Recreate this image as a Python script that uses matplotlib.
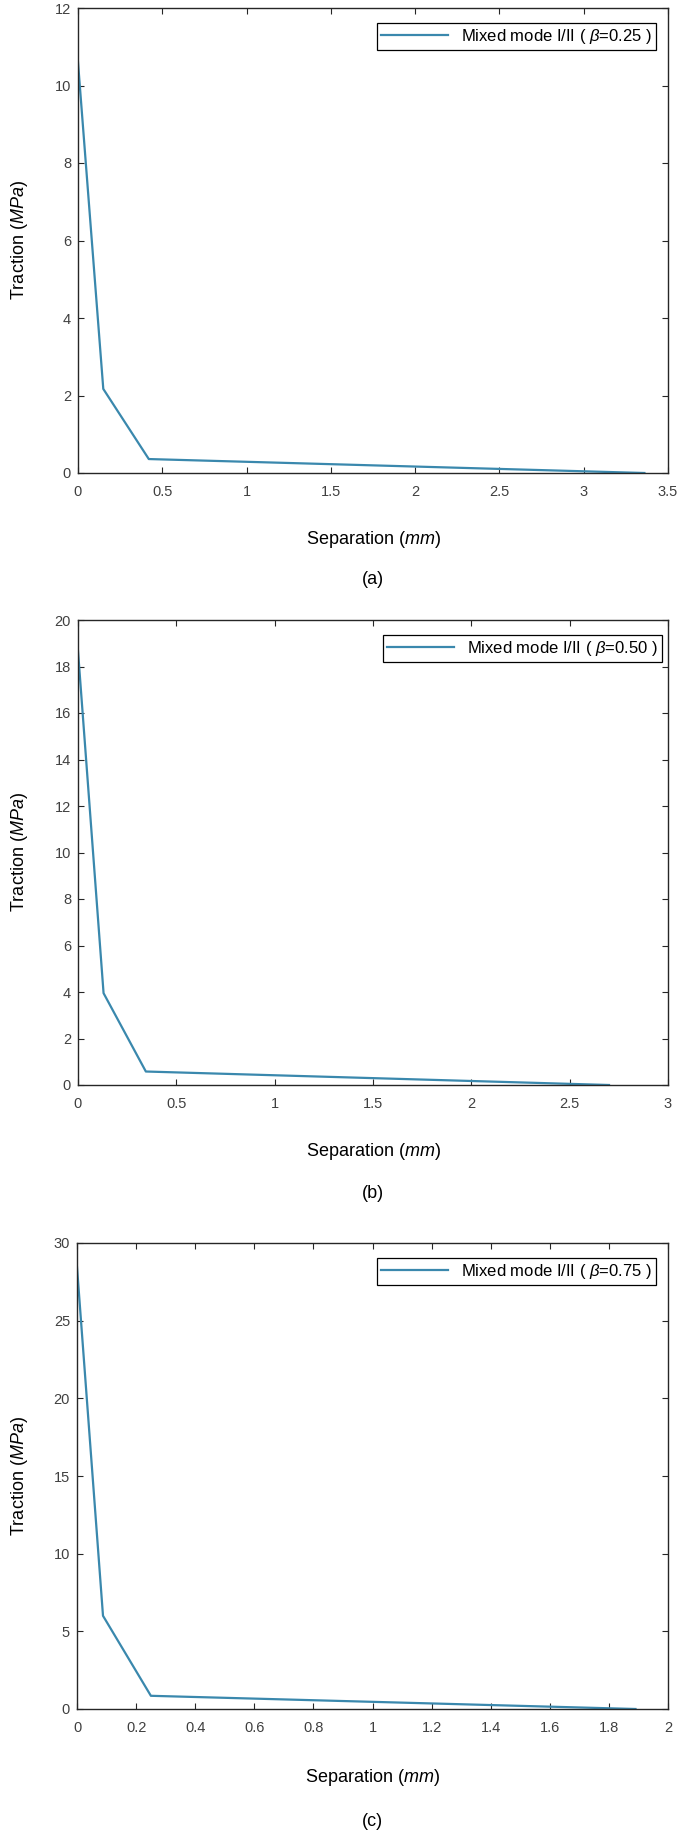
import matplotlib
matplotlib.use("Agg")
import matplotlib.pyplot as plt

plt.rcParams['font.family'] = ['Liberation Sans', 'DejaVu Sans']
plt.rcParams['mathtext.fontset'] = 'custom'
plt.rcParams['mathtext.rm'] = 'Liberation Sans'
plt.rcParams['mathtext.it'] = 'Liberation Sans:italic'

# ---- data ----
sep_a = [0.0, 0.15, 0.42, 3.36]
trac_a = [10.6, 2.17, 0.36, 0.0]
sep_b = [0.0, 0.13, 0.345, 2.70]
trac_b = [18.67, 3.95, 0.58, 0.0]
sep_c = [0.0, 0.088, 0.25, 1.89]
trac_c = [28.45, 6.0, 0.85, 0.0]

labels = ["Mixed mode I/II ( $\\beta$=0.25 )",
          "Mixed mode I/II ( $\\beta$=0.50 )",
          "Mixed mode I/II ( $\\beta$=0.75 )"]
panel_tags = ["(a)", "(b)", "(c)"]
xlims = [(0, 3.5), (0, 3), (0, 2)]
ylims = [(0, 12), (0, 20), (0, 30)]
xticks = [[0, 0.5, 1, 1.5, 2, 2.5, 3, 3.5],
          [0, 0.5, 1, 1.5, 2, 2.5, 3],
          [0, 0.2, 0.4, 0.6, 0.8, 1, 1.2, 1.4, 1.6, 1.8, 2]]
xticklabels = [["0", "0.5", "1", "1.5", "2", "2.5", "3", "3.5"],
               ["0", "0.5", "1", "1.5", "2", "2.5", "3"],
               ["0", "0.2", "0.4", "0.6", "0.8", "1", "1.2", "1.4", "1.6", "1.8", "2"]]
yticks = [[0, 2, 4, 6, 8, 10, 12],
          [0, 2, 4, 6, 8, 10, 12, 14, 16, 18, 20],
          [0, 5, 10, 15, 20, 25, 30]]

W, H = 685, 1837
fig = plt.figure(figsize=(W / 100, H / 100), dpi=100)
fig.patch.set_facecolor('white')

# axes boxes in pixels: left, top, right, bottom
boxes = [(78, 8, 668, 473), (78, 620, 668, 1085), (77, 1243, 668, 1709)]
xlabel_y = [540, 1151, 1778]
tag_y = [580, 1194, 1822]
legend_boxes = [(656, 23), (662, 635), (656, 1258)]  # right, top in px

series = [(sep_a, trac_a), (sep_b, trac_b), (sep_c, trac_c)]
line_color = '#3a88ad'
tick_color = '#404040'

for i in range(3):
    l, t, r, b = boxes[i]
    ax = fig.add_axes([l / W, (H - b) / H, (r - l) / W, (b - t) / H])
    x, y = series[i]
    ax.plot(x, y, color=line_color, lw=1.6, label=labels[i])
    ax.set_xlim(*xlims[i])
    ax.set_ylim(*ylims[i])
    ax.set_xticks(xticks[i])
    ax.set_xticklabels(xticklabels[i])
    ax.set_yticks(yticks[i])
    for s in ax.spines.values():
        s.set_color('#262626')
        s.set_linewidth(1.0)
    ax.tick_params(direction='in', top=True, right=True, length=4, width=0.8,
                   colors='#262626', labelcolor=tick_color, labelsize=10.5)
    ax.tick_params(axis='x', pad=9)
    ax.tick_params(axis='y', pad=5)

    lr, lt = legend_boxes[i]
    bx = (lr - l) / (r - l)
    by = (b - lt) / (b - t)
    leg = ax.legend(loc='upper right', bbox_to_anchor=(bx, by), borderaxespad=0,
                    fancybox=False, framealpha=1, edgecolor='black',
                    fontsize=12, handlelength=4.0, handletextpad=0.8,
                    borderpad=0.25)
    leg.get_frame().set_linewidth(0.9)

    cx = (l + r) / 2 / W
    fig.text(cx, 1 - xlabel_y[i] / H, "Separation ($\\mathit{mm}$)",
             ha='center', va='center', fontsize=13, color='black')
    fig.text(cx, 1 - tag_y[i] / H, panel_tags[i],
             ha='center', va='center', fontsize=13, color='black')
    fig.text(20 / W, 1 - (t + b) / 2 / H, "Traction ($\\mathit{MPa}$)",
             ha='center', va='center', rotation=90, fontsize=13, color='black')

fig.savefig("out.png", dpi=100, facecolor='white')
